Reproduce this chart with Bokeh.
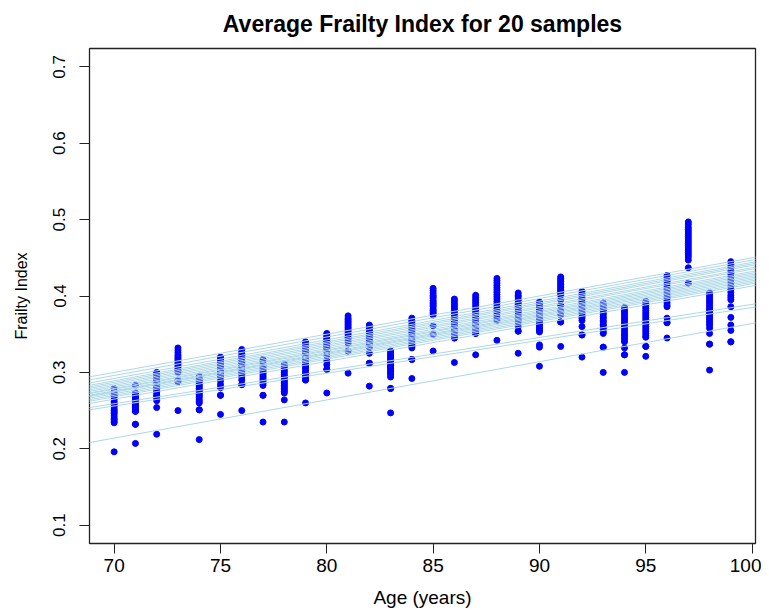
from bokeh.plotting import figure
from bokeh.models import Range1d, FixedTicker, Slope, ColumnDataSource
from bokeh.embed import file_html
from bokeh.resources import INLINE

ages = list(range(70, 100))

frailty = {
    70: [0.279, 0.275, 0.272, 0.270, 0.268, 0.265, 0.262, 0.260, 0.258, 0.255, 0.252, 0.250, 0.248, 0.246, 0.243, 0.240, 0.238, 0.236, 0.234, 0.196],
    71: [0.283, 0.273, 0.271, 0.269, 0.267, 0.265, 0.263, 0.262, 0.260, 0.258, 0.257, 0.255, 0.254, 0.252, 0.250, 0.249, 0.249, 0.232, 0.232, 0.207],
    72: [0.300, 0.297, 0.295, 0.292, 0.290, 0.288, 0.286, 0.284, 0.282, 0.280, 0.279, 0.277, 0.275, 0.273, 0.270, 0.268, 0.266, 0.263, 0.254, 0.219],
    73: [0.332, 0.329, 0.326, 0.323, 0.321, 0.319, 0.317, 0.315, 0.313, 0.311, 0.309, 0.307, 0.305, 0.303, 0.302, 0.300, 0.290, 0.288, 0.288, 0.250],
    74: [0.295, 0.292, 0.290, 0.288, 0.285, 0.283, 0.281, 0.279, 0.277, 0.275, 0.273, 0.271, 0.269, 0.267, 0.264, 0.262, 0.260, 0.251, 0.251, 0.212],
    75: [0.320, 0.318, 0.316, 0.314, 0.312, 0.310, 0.308, 0.306, 0.304, 0.302, 0.300, 0.298, 0.296, 0.294, 0.289, 0.284, 0.280, 0.270, 0.270, 0.245],
    76: [0.330, 0.327, 0.325, 0.322, 0.320, 0.318, 0.316, 0.313, 0.311, 0.309, 0.306, 0.304, 0.301, 0.299, 0.297, 0.294, 0.290, 0.284, 0.284, 0.250],
    77: [0.317, 0.314, 0.311, 0.309, 0.307, 0.305, 0.303, 0.301, 0.299, 0.297, 0.295, 0.293, 0.291, 0.289, 0.287, 0.285, 0.283, 0.270, 0.270, 0.235],
    78: [0.311, 0.308, 0.305, 0.302, 0.300, 0.297, 0.295, 0.293, 0.291, 0.289, 0.287, 0.285, 0.283, 0.281, 0.279, 0.277, 0.275, 0.273, 0.264, 0.235],
    79: [0.340, 0.337, 0.334, 0.331, 0.328, 0.325, 0.322, 0.319, 0.316, 0.313, 0.310, 0.307, 0.304, 0.301, 0.298, 0.295, 0.292, 0.290, 0.290, 0.260],
    80: [0.351, 0.349, 0.347, 0.345, 0.343, 0.341, 0.340, 0.338, 0.336, 0.334, 0.333, 0.331, 0.329, 0.327, 0.322, 0.315, 0.310, 0.304, 0.304, 0.273],
    81: [0.374, 0.371, 0.369, 0.367, 0.365, 0.363, 0.361, 0.359, 0.357, 0.355, 0.353, 0.351, 0.349, 0.346, 0.344, 0.341, 0.338, 0.328, 0.328, 0.299],
    82: [0.362, 0.360, 0.358, 0.356, 0.354, 0.352, 0.350, 0.348, 0.346, 0.344, 0.342, 0.340, 0.338, 0.336, 0.334, 0.333, 0.325, 0.312, 0.312, 0.282],
    83: [0.328, 0.325, 0.323, 0.321, 0.319, 0.317, 0.315, 0.313, 0.311, 0.309, 0.307, 0.305, 0.303, 0.301, 0.299, 0.297, 0.294, 0.279, 0.279, 0.247],
    84: [0.371, 0.368, 0.366, 0.363, 0.361, 0.358, 0.356, 0.353, 0.351, 0.348, 0.346, 0.343, 0.341, 0.338, 0.336, 0.334, 0.332, 0.317, 0.317, 0.292],
    85: [0.410, 0.407, 0.404, 0.401, 0.399, 0.397, 0.394, 0.392, 0.390, 0.388, 0.386, 0.383, 0.381, 0.379, 0.377, 0.375, 0.361, 0.350, 0.350, 0.328],
    86: [0.396, 0.393, 0.390, 0.387, 0.384, 0.381, 0.378, 0.375, 0.372, 0.369, 0.366, 0.363, 0.360, 0.357, 0.354, 0.351, 0.348, 0.345, 0.345, 0.313],
    87: [0.401, 0.398, 0.395, 0.392, 0.389, 0.386, 0.383, 0.380, 0.377, 0.374, 0.371, 0.368, 0.365, 0.362, 0.359, 0.356, 0.353, 0.351, 0.351, 0.323],
    88: [0.423, 0.420, 0.417, 0.414, 0.411, 0.408, 0.405, 0.402, 0.399, 0.396, 0.393, 0.390, 0.387, 0.384, 0.381, 0.378, 0.374, 0.371, 0.368, 0.342],
    89: [0.404, 0.401, 0.399, 0.396, 0.394, 0.391, 0.389, 0.386, 0.384, 0.381, 0.379, 0.376, 0.374, 0.371, 0.369, 0.366, 0.360, 0.354, 0.354, 0.325],
    90: [0.392, 0.389, 0.387, 0.384, 0.382, 0.379, 0.377, 0.374, 0.372, 0.369, 0.367, 0.364, 0.362, 0.359, 0.357, 0.355, 0.353, 0.336, 0.333, 0.308],
    91: [0.425, 0.423, 0.421, 0.419, 0.417, 0.415, 0.413, 0.411, 0.409, 0.407, 0.405, 0.403, 0.401, 0.395, 0.388, 0.381, 0.375, 0.366, 0.366, 0.334],
    92: [0.406, 0.403, 0.401, 0.398, 0.396, 0.393, 0.391, 0.388, 0.386, 0.383, 0.381, 0.378, 0.376, 0.373, 0.371, 0.368, 0.360, 0.349, 0.349, 0.320],
    93: [0.391, 0.388, 0.386, 0.383, 0.381, 0.378, 0.376, 0.373, 0.371, 0.368, 0.366, 0.363, 0.361, 0.358, 0.356, 0.353, 0.351, 0.333, 0.333, 0.300],
    94: [0.385, 0.382, 0.379, 0.376, 0.373, 0.370, 0.367, 0.364, 0.361, 0.358, 0.355, 0.352, 0.349, 0.346, 0.343, 0.340, 0.332, 0.323, 0.323, 0.300],
    95: [0.393, 0.390, 0.387, 0.384, 0.381, 0.378, 0.375, 0.372, 0.369, 0.366, 0.363, 0.360, 0.357, 0.354, 0.351, 0.348, 0.346, 0.334, 0.334, 0.321],
    96: [0.427, 0.424, 0.421, 0.419, 0.416, 0.413, 0.410, 0.408, 0.405, 0.402, 0.399, 0.397, 0.394, 0.391, 0.388, 0.386, 0.371, 0.365, 0.365, 0.345],
    97: [0.497, 0.494, 0.490, 0.487, 0.484, 0.481, 0.478, 0.475, 0.472, 0.469, 0.466, 0.463, 0.460, 0.457, 0.454, 0.451, 0.447, 0.437, 0.417, 0.417],
    98: [0.404, 0.401, 0.398, 0.395, 0.392, 0.389, 0.386, 0.383, 0.380, 0.377, 0.374, 0.371, 0.368, 0.365, 0.362, 0.358, 0.351, 0.337, 0.337, 0.303],
    99: [0.445, 0.441, 0.437, 0.433, 0.429, 0.425, 0.421, 0.417, 0.413, 0.409, 0.405, 0.401, 0.398, 0.395, 0.386, 0.372, 0.362, 0.355, 0.340, 0.340],
}

# fitted lines for the 20 samples: frailty index at age 70 and at age 100
line_fi_70 = [0.300, 0.296, 0.292, 0.289, 0.287, 0.285, 0.283, 0.281, 0.279, 0.278,
              0.276, 0.275, 0.274, 0.272, 0.270, 0.268, 0.265, 0.259, 0.256, 0.214]
line_fi_100 = [0.450, 0.447, 0.444, 0.442, 0.440, 0.437, 0.435, 0.432, 0.430, 0.428,
               0.426, 0.424, 0.422, 0.420, 0.418, 0.416, 0.413, 0.389, 0.385, 0.364]

x_ticks = [70, 75, 80, 85, 90, 95, 100]
y_ticks = [0.1, 0.2, 0.3, 0.4, 0.5, 0.6, 0.7]
y_lim = (0.1, 0.7)

xs, ys = [], []
for a in ages:
    for v in frailty[a]:
        xs.append(a)
        ys.append(v)
src = ColumnDataSource(dict(age=xs, fi=ys))

xpad = 0.04 * (max(ages) - min(ages))
ypad = 0.04 * (y_lim[1] - y_lim[0])

FONT = "Liberation Sans"

p = figure(width=761, height=610, output_backend="svg", toolbar_location=None,
           x_range=Range1d(min(ages) - xpad, max(ages) + xpad),
           y_range=Range1d(y_lim[0] - ypad, y_lim[1] + ypad),
           title="Average Frailty Index for 20 samples",
           min_border_left=89, min_border_right=6, min_border_top=48, min_border_bottom=61)

p.title.align = "center"
p.title.vertical_align = "top"
p.title.text_font = FONT
p.title.text_font_size = "23px"
p.title.text_font_style = "bold"
p.title.text_color = "black"
p.title.standoff = 19

p.grid.visible = False
p.outline_line_color = "#222222"
p.outline_line_width = 1.3
p.background_fill_color = "white"
p.border_fill_color = "white"

for ax in (p.xaxis[0], p.yaxis[0]):
    ax.axis_line_color = None
    ax.major_tick_in = 0
    ax.major_tick_out = 10
    ax.major_tick_line_color = "#222222"
    ax.minor_tick_line_color = None
    ax.major_label_text_font = FONT
    ax.major_label_text_color = "black"
    ax.axis_label_text_font = FONT
    ax.axis_label_text_font_style = "normal"
    ax.axis_label_text_color = "black"

p.xaxis.major_label_text_font_size = "19px"
p.yaxis.major_label_text_font_size = "17px"
p.xaxis.axis_label_text_font_size = "19px"
p.yaxis.axis_label_text_font_size = "16px"

p.xaxis.ticker = FixedTicker(ticks=x_ticks)
p.yaxis.ticker = FixedTicker(ticks=y_ticks)
p.xaxis.axis_label = "Age (years)"
p.yaxis.axis_label = "Frailty Index"
p.yaxis.major_label_orientation = "vertical"
p.xaxis.major_label_standoff = 5
p.yaxis.major_label_standoff = 14
p.xaxis.axis_label_standoff = 12
p.yaxis.axis_label_standoff = 21

p.scatter("age", "fi", source=src, size=6, color="blue", line_color="blue")

for a70, a100 in zip(line_fi_70, line_fi_100):
    g = (a100 - a70) / 30.0
    p.add_layout(Slope(gradient=g, y_intercept=a70 - g * 70, line_color="lightblue", line_width=1))

open("out.html", "w").write(file_html(p, INLINE))
